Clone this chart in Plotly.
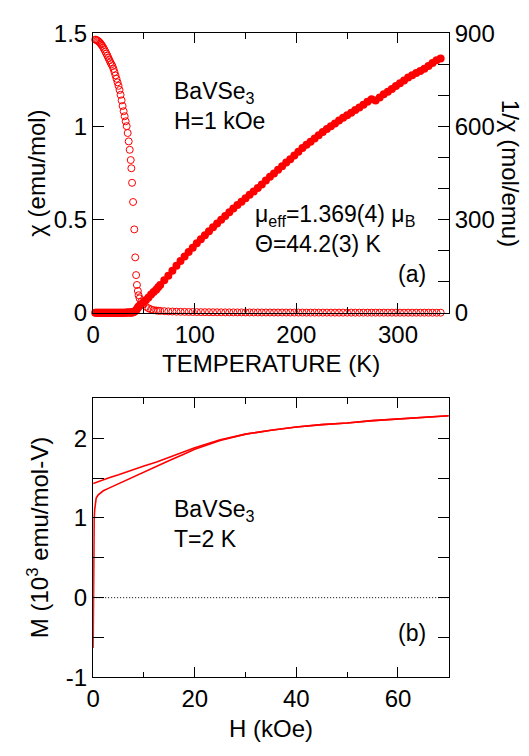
import plotly.graph_objects as go

# ---------------- data: panel (a) ----------------
T = [2, 3, 4, 5, 6, 7, 8, 9, 10, 11, 12, 13, 14, 15, 16, 17, 18, 19, 20, 21, 22, 23, 24, 25,
     26, 27, 28, 29, 30, 31, 32, 33, 34, 35, 36, 37,
     37.6, 38.3, 39.3, 40.5, 41.4, 42.3, 43.1, 44.0, 44.7, 45.7, 47.3, 49.5, 52, 54.5, 57, 59.5, 62, 64,
     66, 70, 74, 78, 82, 86, 90, 94, 98, 102, 106, 110, 114, 118, 122, 126, 130, 134, 138, 142,
     146, 150, 154, 158, 162, 166, 170, 174, 178, 182, 186, 190, 194, 198, 202, 206, 210, 214,
     218, 222, 226, 230, 234, 238, 242, 246, 250, 254, 258, 262, 266, 270, 274, 278, 282, 286,
     290, 294, 298, 302, 306, 310, 314, 318, 322, 326, 330, 334, 338, 342]

chi = [1.466, 1.465, 1.462, 1.458, 1.453, 1.447, 1.440, 1.432, 1.423, 1.413, 1.402, 1.391,
       1.380, 1.368, 1.356, 1.344, 1.334, 1.324, 1.309, 1.292, 1.274, 1.256, 1.237, 1.218,
       1.196, 1.170, 1.140, 1.110, 1.082, 1.055, 1.028, 1.002, 0.965, 0.920, 0.875, 0.820,
       0.776, 0.698, 0.595, 0.448, 0.298, 0.203, 0.150, 0.118, 0.095, 0.078, 0.060, 0.045,
       0.033, 0.025, 0.019, 0.015, 0.013, 0.012,
       0.0111, 0.0095, 0.0083, 0.0074, 0.0066, 0.0060, 0.0055, 0.0051, 0.0048, 0.0045,
       0.0042, 0.0040, 0.0038, 0.0036, 0.0035, 0.0033, 0.0032, 0.0031, 0.0030, 0.0029,
       0.0028, 0.0027, 0.0026, 0.0026, 0.0025, 0.0024, 0.0023, 0.0023, 0.0022, 0.0022,
       0.0021, 0.0021, 0.0020, 0.0020, 0.0019, 0.0019, 0.0018, 0.0018, 0.0018, 0.0017,
       0.0017, 0.0017, 0.0017, 0.0016, 0.0016, 0.0016, 0.0016, 0.0016, 0.0015, 0.0015,
       0.0015, 0.0015, 0.0014, 0.0015, 0.0014, 0.0014, 0.0014, 0.0014, 0.0014, 0.0014,
       0.0013, 0.0013, 0.0013, 0.0013, 0.0013, 0.0013, 0.0013, 0.0012, 0.0012, 0.0012]

inv_chi = [0.68, 0.68, 0.68, 0.69, 0.69, 0.69, 0.69, 0.69, 0.70, 0.71, 0.71, 0.72,
           0.72, 0.73, 0.74, 0.74, 0.75, 0.76, 0.76, 0.77, 0.78, 0.80, 0.81, 0.82,
           0.84, 0.85, 0.88, 0.90, 0.92, 0.95, 0.97, 1.00, 1.04, 1.09, 1.14, 1.22,
           1.3, 1.5, 2.0, 3.5, 6, 9, 12.5, 16.5, 20.5, 23.5, 28, 34, 42, 50, 59, 67, 75, 83,
           90, 105, 120, 136, 152, 167, 182, 196, 210, 224,
           237, 250, 263, 276, 288, 300, 312, 324, 336, 347,
           358, 369, 380, 391, 402, 413, 426, 438, 449, 461,
           472, 484, 495, 507, 519, 531, 541, 551, 561, 572,
           582, 592, 601, 610, 619, 628, 636, 644, 653, 661,
           670, 680, 688, 684, 693, 704, 712, 721, 730, 739,
           748, 758, 765, 772, 779, 786, 795, 804, 813, 819]

# ---------------- data: panel (b) ----------------
H_up = [0, 0.02, 0.05, 0.08, 0.12, 0.16, 0.2, 0.3, 0.4, 0.6, 1.0, 1.5, 2, 3, 4, 5, 6, 7.5,
        10, 12.5, 15, 17.5, 20, 25, 30, 35, 40, 45, 50, 55, 60, 65, 70]
M_up = [-0.63, -0.35, 0.05, 0.40, 0.70, 0.88, 0.99, 1.10, 1.19, 1.25, 1.29, 1.32, 1.34, 1.37,
        1.40, 1.43, 1.45, 1.50, 1.58, 1.65, 1.72, 1.79, 1.86, 1.97, 2.05, 2.10, 2.14, 2.17,
        2.19, 2.22, 2.24, 2.26, 2.28]
H_down = [70, 65, 60, 55, 50, 45, 40, 35, 30, 25, 20, 17.5, 15, 12.5, 10, 7.5, 5, 3, 2, 1, 0]
M_down = [2.28, 2.26, 2.24, 2.22, 2.19, 2.17, 2.14, 2.10, 2.05, 1.98, 1.88, 1.82, 1.76, 1.70,
          1.65, 1.59, 1.54, 1.50, 1.475, 1.45, 1.43]

M_ticks = [-1, 0, 1, 2]
M_ticktext = ["-1", "0", "1", "2"]

# ---------------- figure ----------------
W, Hpx = 529, 756
RED = "#ff0000"
FONT = "Liberation Sans, Arial, Helvetica, sans-serif"
FS = 24      # tick labels and axis titles
FS_IN = 23   # in-plot labels


def px(x):
    return x / W


def py(y):
    return 1 - y / Hpx


fig = go.Figure()
fig.add_trace(go.Scatter(x=T, y=chi, mode="markers", xaxis="x", yaxis="y",
                         marker=dict(symbol="circle-open", size=7, color=RED,
                                     line=dict(width=1, color=RED)),
                         cliponaxis=False, showlegend=False))
fig.add_trace(go.Scatter(x=T, y=inv_chi, mode="markers", xaxis="x", yaxis="y2",
                         marker=dict(symbol="circle", size=8, color=RED, line=dict(width=0)),
                         cliponaxis=False, showlegend=False))
fig.add_trace(go.Scatter(x=H_up, y=M_up, mode="lines", xaxis="x2", yaxis="y3",
                         line=dict(color=RED, width=1.6), showlegend=False))
fig.add_trace(go.Scatter(x=H_down, y=M_down, mode="lines", xaxis="x2", yaxis="y3",
                         line=dict(color=RED, width=1.6), showlegend=False))

xdom = [px(87.3), px(447.7)]
ax_common = dict(showline=True, linecolor="black", linewidth=1.3, ticks="inside",
                 tickcolor="black", tickwidth=1.3, showgrid=False, zeroline=False,
                 tickfont=dict(family=FONT, size=FS, color="black"))

fig.update_layout(
    width=W, height=Hpx, margin=dict(l=0, r=0, t=0, b=0),
    paper_bgcolor="white", plot_bgcolor="white", showlegend=False,
    xaxis=dict(domain=xdom, anchor="y", range=[0, 350], tick0=0, dtick=100, ticklen=10,
               mirror="ticks",
               minor=dict(tick0=0, dtick=50, ticks="inside", ticklen=5.5,
                          tickcolor="black", tickwidth=1.3),
               **ax_common),
    yaxis=dict(domain=[py(310), py(20)], anchor="x", range=[0, 1.5], tick0=0, dtick=0.5,
               ticklen=10.5, **ax_common),
    yaxis2=dict(overlaying="y", side="right", anchor="x", range=[0, 900], tick0=0,
                dtick=300, ticklen=10.5,
                minor=dict(tick0=0, dtick=100, ticks="inside", ticklen=10.5,
                           tickcolor="black", tickwidth=1.3),
                **ax_common),
    xaxis2=dict(domain=xdom, anchor="y3", range=[0, 70], tick0=0, dtick=20, ticklen=10,
                mirror="ticks",
                minor=dict(tick0=0, dtick=10, ticks="inside", ticklen=5.5,
                           tickcolor="black", tickwidth=1.3),
                **ax_common),
    yaxis3=dict(domain=[py(688), py(398.5)], anchor="x2", range=[-1, 2.5],
                tickmode="array", tickvals=M_ticks, ticktext=M_ticktext,
                ticklen=10.5, mirror="ticks",
                minor=dict(tick0=0, dtick=0.5, ticks="inside", ticklen=10.5,
                           tickcolor="black", tickwidth=1.3),
                **ax_common),
)

fig.add_shape(type="line", xref="x2 domain", yref="y3", x0=0, x1=1, y0=0, y1=0,
              line=dict(color="black", width=1, dash="1px,2px"))


def ann(text, x, y, xanchor="left", angle=0, size=FS_IN):
    fig.add_annotation(text=text, x=px(x), y=py(y), xref="paper", yref="paper",
                       xanchor=xanchor, yanchor="middle", showarrow=False,
                       textangle=angle, align="left",
                       font=dict(family=FONT, size=size, color="black"))


# panel (a) texts
ann("BaVSe<sub>3</sub><br>H=1 kOe", 167, 95)
ann("μ<sub>eff</sub>=1.369(4) μ<sub>B</sub><br>Θ=44.2(3) K", 249, 223)
ann("(a)", 427, 270, xanchor="right")
ann("TEMPERATURE (K)", 267.5, 362, xanchor="center", size=FS)
ann("χ (emu/mol)", 30, 165, xanchor="center", angle=-90, size=FS)
ann("1/χ (mol/emu)", 511, 165, xanchor="center", angle=90, size=FS)

# panel (b) texts
ann("BaVSe<sub>3</sub><br>T=2 K", 167, 529)
ann("(b)", 427, 642, xanchor="right")
ann("H (kOe)", 267.5, 741, xanchor="center", size=FS)
ann("M (10<sup>3</sup> emu/mol-V)", 31, 543, xanchor="center", angle=-90, size=FS)

page_fix = (
    "var s=document.createElement('style');"
    "s.textContent='html,body{margin:0!important;padding:0!important;overflow:hidden!important;}';"
    "document.head.appendChild(s);"
)

fig.write_html("out.html", post_script=page_fix)
